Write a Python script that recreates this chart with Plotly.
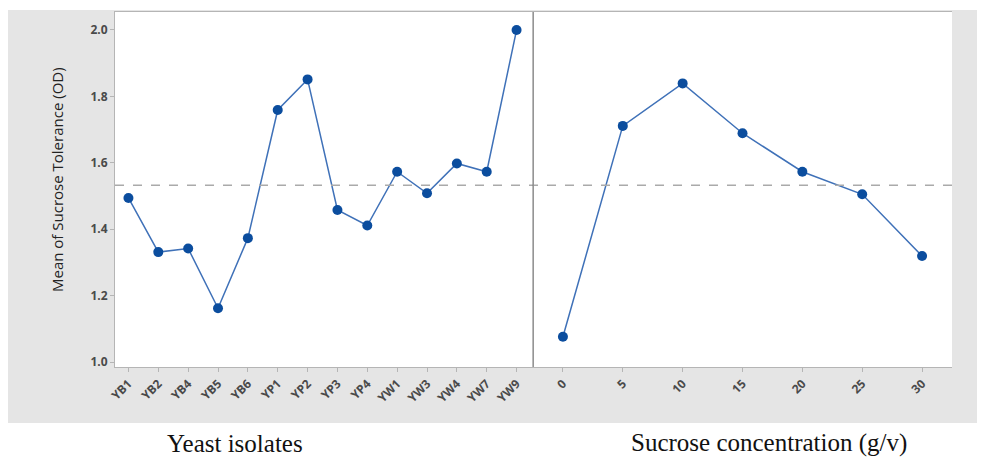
import plotly.graph_objects as go

isolates = ["YB1", "YB2", "YB4", "YB5", "YB6", "YP1", "YP2", "YP3", "YP4", "YW1", "YW3", "YW4", "YW7", "YW9"]
isolate_means = [1.494, 1.331, 1.342, 1.162, 1.373, 1.759, 1.851, 1.458, 1.411, 1.573, 1.508, 1.598, 1.573, 2.000]

sucrose = [0, 5, 10, 15, 20, 25, 30]
sucrose_means = [1.076, 1.711, 1.839, 1.689, 1.573, 1.505, 1.319]

grand_mean = 1.532
y_ticks = [1.0, 1.2, 1.4, 1.6, 1.8, 2.0]

OFF = 8  # page body margin
W, H = 985 - OFF, 461 - OFF
L, R, T, B = 115 - OFF, 952 - OFF, 12 - OFF, 367 - OFF
split = (533 - OFF - L) / (R - L)

LINE = "#3f71b8"
MARK = "#0b4d9e"
AX = "#b5b5b5"
TICKFONT = dict(family="Open Sans", size=12, color="#4a4a4a", weight=700)


def px2paper_x(px):
    return (px - OFF - L) / (R - L)


def px2paper_y(py):
    return (B - (py - OFF)) / (B - T)


fig = go.Figure()
fig.add_trace(go.Scatter(x=isolates, y=isolate_means, mode="lines+markers",
                         line=dict(color=LINE, width=1.5),
                         marker=dict(color=MARK, size=10, symbol="circle"),
                         xaxis="x", yaxis="y", showlegend=False))
fig.add_trace(go.Scatter(x=sucrose, y=sucrose_means, mode="lines+markers",
                         line=dict(color=LINE, width=1.5),
                         marker=dict(color=MARK, size=10, symbol="circle"),
                         xaxis="x2", yaxis="y", showlegend=False))

fig.update_layout(
    width=W, height=H,
    margin=dict(l=L, r=W - R, t=T, b=H - B),
    paper_bgcolor="white", plot_bgcolor="white",
    xaxis=dict(domain=[0, split], type="category", range=[-0.45, 13.55],
               tickangle=-45, tickfont=TICKFONT, ticks="outside", ticklen=4,
               tickcolor=AX, showgrid=False, zeroline=False,
               showline=True, linecolor=AX, linewidth=1, mirror=True, anchor="y"),
    xaxis2=dict(domain=[split, 1], range=[-2.5, 32.5], tickvals=sucrose,
                tickangle=-45, tickfont=TICKFONT, ticks="outside", ticklen=4,
                tickcolor=AX, showgrid=False, zeroline=False,
                showline=True, linecolor=AX, linewidth=1, mirror=True, anchor="y"),
    yaxis=dict(range=[0.985, 2.054], tickvals=y_ticks, ticktext=[f"{v:.1f}" for v in y_ticks],
               tickfont=TICKFONT, ticks="outside", ticklen=4, tickcolor=AX,
               showgrid=False, zeroline=False, showline=True, linecolor=AX,
               linewidth=1, mirror=True),
)

shapes = [
    dict(type="rect", xref="paper", yref="paper", layer="below",
         x0=px2paper_x(8), x1=px2paper_x(990), y0=px2paper_y(423), y1=px2paper_y(10),
         fillcolor="#e5e5e5", line=dict(width=0)),
    dict(type="rect", xref="paper", yref="paper", layer="below",
         x0=0, x1=1, y0=0, y1=1, fillcolor="white", line=dict(width=0)),
    dict(type="line", xref="paper", yref="y", x0=0, x1=1, y0=grand_mean, y1=grand_mean,
         line=dict(color="#aaaaaa", width=1.5, dash="dash")),
    dict(type="line", xref="paper", yref="paper", x0=split, x1=split, y0=0, y1=1,
         line=dict(color="#777777", width=1)),
]
fig.update_layout(shapes=shapes)

fig.add_annotation(text="Mean of Sucrose Tolerance (OD)", xref="paper", yref="paper",
                   x=px2paper_x(57), y=px2paper_y(180), xanchor="center", yanchor="middle",
                   textangle=-90, showarrow=False,
                   font=dict(family="Open Sans", size=15, color="#222222"))
fig.add_annotation(text="Yeast isolates", xref="paper", yref="paper",
                   x=px2paper_x(235), y=px2paper_y(443), xanchor="center", yanchor="middle",
                   showarrow=False,
                   font=dict(family="Liberation Serif", size=25, color="#111111"))
fig.add_annotation(text="Sucrose concentration (g/v)", xref="paper", yref="paper",
                   x=px2paper_x(769), y=px2paper_y(443), xanchor="center", yanchor="middle",
                   showarrow=False,
                   font=dict(family="Liberation Serif", size=25, color="#111111"))

fig.write_html("out.html")
